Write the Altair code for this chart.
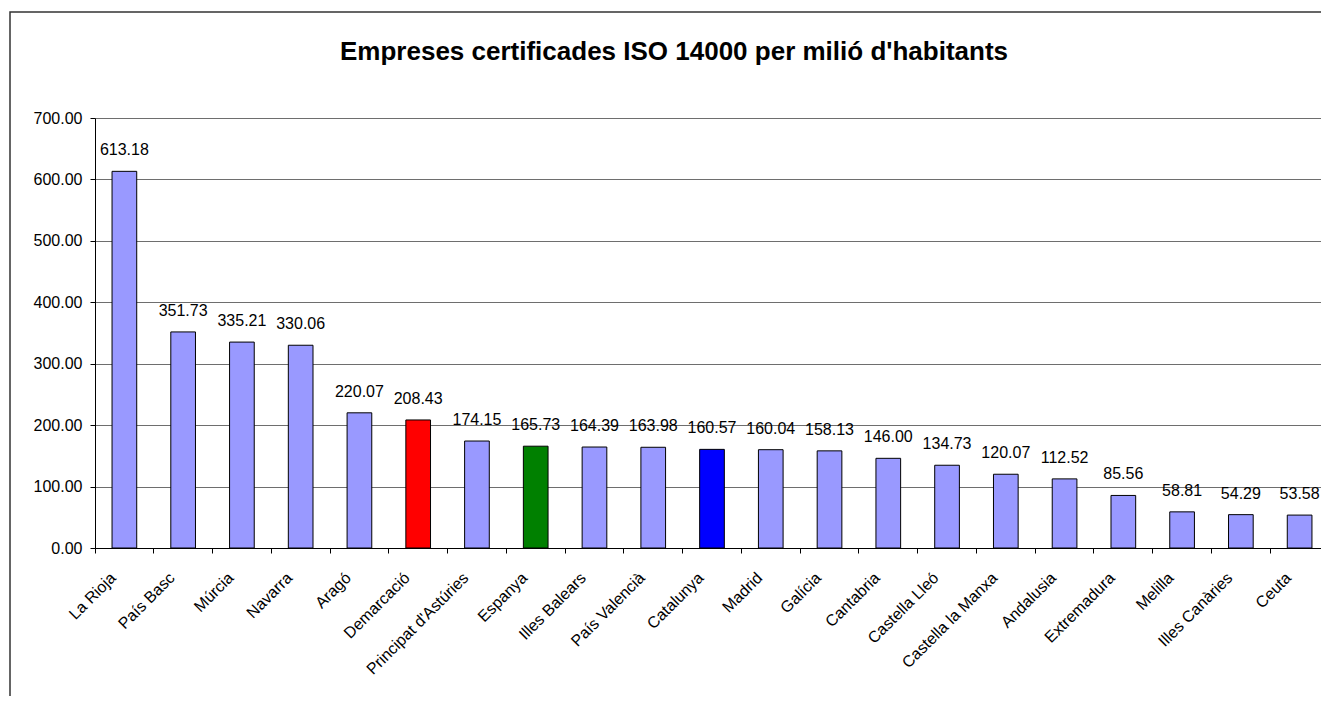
import altair as alt
import pandas as pd

regions = ["La Rioja", "País Basc", "Múrcia", "Navarra", "Aragó", "Demarcació",
           "Principat d'Astúries", "Espanya", "Illes Balears", "País Valencià",
           "Catalunya", "Madrid", "Galícia", "Cantabria", "Castella Lleó",
           "Castella la Manxa", "Andalusia", "Extremadura", "Melilla",
           "Illes Canàries", "Ceuta"]
values = [613.18, 351.73, 335.21, 330.06, 220.07, 208.43, 174.15, 165.73, 164.39,
          163.98, 160.57, 160.04, 158.13, 146.00, 134.73, 120.07, 112.52, 85.56,
          58.81, 54.29, 53.58]
groups = ["Altres", "Altres", "Altres", "Altres", "Altres", "Demarcació",
          "Altres", "Espanya", "Altres", "Altres", "Catalunya", "Altres", "Altres",
          "Altres", "Altres", "Altres", "Altres", "Altres", "Altres", "Altres", "Altres"]
group_names = ["Altres", "Demarcació", "Espanya", "Catalunya"]
group_colors = ["#9999FF", "#FF0000", "#008000", "#0000FF"]
y_ticks = [0, 100, 200, 300, 400, 500, 600, 700]
title_text = "Empreses certificades ISO 14000 per milió d'habitants"

df = pd.DataFrame({"regio": regions, "valor": values, "grup": groups})
one = pd.DataFrame({"t": [title_text]})

W, H = 1226, 430
BAND_RANGE = 1234
FONT = "Liberation Sans"

x_enc = alt.X("regio:N", sort=regions, title=None,
              scale=alt.Scale(paddingInner=0, paddingOuter=0, range=[0, BAND_RANGE]),
              axis=alt.Axis(labelAngle=-45, labelAlign="right", labelBaseline="middle",
                            labelFontSize=16, labelFont=FONT, labelColor="black",
                            bandPosition=0, labelOffset=-11, labelPadding=22,
                            tickSize=5, tickColor="black", domainColor="black",
                            labelOverlap=False, grid=False))
y_enc = alt.Y("valor:Q", title=None,
              scale=alt.Scale(domain=[0, 700], nice=False),
              axis=alt.Axis(values=y_ticks, format=".2f", labelFontSize=16,
                            labelFont=FONT, labelColor="black", tickSize=5,
                            tickColor="black", domainColor="black", labelPadding=8,
                            grid=True, gridColor="#6e6e6e", gridWidth=1))

bars = alt.Chart(df).mark_bar(stroke="black", strokeWidth=1,
                              width=alt.RelativeBandSize(0.42)).encode(
    x=x_enc, y=y_enc,
    color=alt.Color("grup:N", scale=alt.Scale(domain=group_names, range=group_colors),
                    legend=None),
)

labels = alt.Chart(df).mark_text(dy=-21, baseline="middle", fontSize=16, font=FONT,
                                 color="black").encode(
    x=alt.X("regio:N", sort=regions),
    y=alt.Y("valor:Q"),
    text=alt.Text("valor:Q", format=".2f"),
)

border = alt.Chart(one).mark_rect(fill=None, stroke="#333333", strokeWidth=1.5).encode(
    x=alt.value(-85), x2=alt.value(W + 200),
    y=alt.value(-106), y2=alt.value(H + 400),
)

title = alt.Chart(one).mark_text(font=FONT, fontSize=26, fontWeight="bold",
                                 color="black", baseline="middle", align="center").encode(
    x=alt.value(W / 2 - 34), y=alt.value(-66), text="t:N",
)

chart = alt.layer(border, title, bars, labels).properties(
    width=W, height=H,
    autosize=alt.AutoSizeParams(type="none"),
    padding={"left": 87, "top": 110, "right": 0, "bottom": 148},
).configure_view(stroke=None).configure(background="white")

chart.save("out.html", embed_options={"renderer": "svg", "actions": False})
